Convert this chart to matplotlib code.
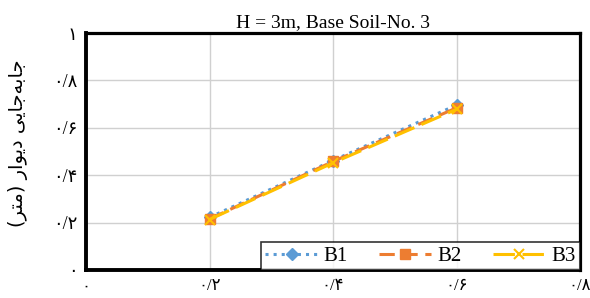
import matplotlib
matplotlib.use('Agg')
import matplotlib.pyplot as plt

# داده‌ها
x_vals = [0.2, 0.4, 0.6]
b1 = [0.222, 0.462, 0.696]
b2 = [0.215, 0.458, 0.684]
b3 = [0.213, 0.452, 0.678]
series_names = ['B1', 'B2', 'B3']
tick_vals = [0, 0.2, 0.4, 0.6, 0.8]
x_tick_labels = ['۰', '۰/۲', '۰/۴', '۰/۶', '۰/۸']
y_ticks = [0, 0.2, 0.4, 0.6, 0.8, 1.0]
y_tick_labels = ['۰', '۰/۲', '۰/۴', '۰/۶', '۰/۸', '۱']
title = 'H = 3m, Base Soil-No. 3'
# "جابه‌جایی دیوار (متر)" in visual order, presentation forms
ylabel = ('(\uFEAE\uFE98\uFEE3) \uFEAD\uFE8D\uFEEE\uFBFE\uFEA9 '
          '\uFBFD\uFBFE\uFE8E\uFE9F\uFEEA\uFE91\uFE8E\uFE9F')

fam = ['Liberation Serif', 'DejaVu Sans']
plt.rcParams['font.family'] = fam

fig = plt.figure(figsize=(5.9, 2.98), dpi=100)
ax = fig.add_axes([86/590, 28/298, 494/590, 237/298])

ax.plot(x_vals, b1, color='#5B9BD5', linestyle=':', linewidth=2.2,
        marker='D', markersize=6, label=series_names[0])
ax.plot(x_vals, b2, color='#ED7D31', linestyle=(0, (5, 2.5)), linewidth=2.2,
        marker='s', markersize=7, label=series_names[1])
ax.plot(x_vals, b3, color='#FFC000', linestyle=(0, (7, 2.5)), linewidth=2.2,
        marker='x', markersize=7, markeredgewidth=1.5, label=series_names[2])

ax.set_xlim(0, 0.8)
ax.set_ylim(0, 1.0)
ax.set_xticks(tick_vals)
ax.set_xticklabels(x_tick_labels, fontsize=12, family=fam)
ax.set_yticks(y_ticks)
ax.set_yticklabels(y_tick_labels, fontsize=13, family=fam)
ax.tick_params(length=0, pad=6)
ax.grid(True, color='#d0d0d0', linewidth=1)
ax.set_axisbelow(True)
for s in ['left', 'bottom']:
    ax.spines[s].set_linewidth(2.8)
for s in ['top', 'right']:
    ax.spines[s].set_linewidth(2.3)

ax.set_title(title, fontsize=14, pad=4)
fig.text(18/590, 0.52, ylabel, rotation=90, fontsize=14, family='DejaVu Sans',
         ha='center', va='center')

leg = ax.legend(loc='lower right', bbox_to_anchor=(1, 0), borderaxespad=0,
                ncol=3, fontsize=15, frameon=True, fancybox=False,
                edgecolor='black', handlelength=2.5, columnspacing=1.5,
                handletextpad=0.3, borderpad=0.2)
leg.get_frame().set_linewidth(1.2)

fig.savefig('out.png', dpi=100)
